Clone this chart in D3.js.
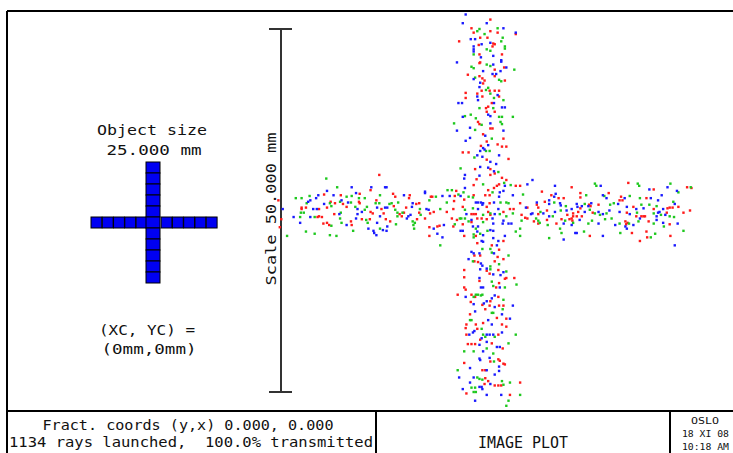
<!DOCTYPE html>
<html lang="en">
<head>
<meta charset="UTF-8">
<title>Image Plot</title>
<script src="https://d3js.org/d3.v7.min.js"></script>
<style>
  body { margin: 0; background: #fff; }
  svg text { font-family: "DejaVu Sans Mono", monospace; fill: #111; white-space: pre; }
</style>
</head>
<body>
<svg id="chart" width="733" height="453"></svg>
<script>
// ray intersections in the image plane, mm [x, y], one array per wavelength
const redRays = [
  [0.6,26.3],[-2.0,25.1],[-1.7,24.5],[0.6,24.7],[1.6,24.5],[4.1,24.3],[-3.7,23.3],[-0.8,23.8],[0.2,23.8],[1.0,23.0],
  [1.2,22.9],[0.9,22.6],[-1.0,22.8],[-0.9,21.5],[2.2,21.5],[-0.8,20.4],[-0.9,20.3],[1.2,19.4],[2.5,19.7],[1.2,18.5],
  [-2.5,18.7],[-0.9,18.5],[-0.5,18.2],[-0.2,17.9],[-0.4,17.5],[2.6,17.9],[-0.6,16.5],[0.5,16.5],[1.2,16.5],[1.8,16.5],
  [-2.8,16.2],[-1.2,16.1],[-0.5,15.7],[1.8,15.7],[-2.8,15.5],[0.8,14.8],[0.0,14.1],[0.3,14.3],[1.2,13.6],[0.1,13.6],
  [-1.1,12.2],[-0.9,11.9],[0.6,11.3],[0.9,11.3],[-0.4,10.5],[2.4,9.9],[0.1,9.5],[-0.7,8.9],[1.6,9.1],[2.2,8.8],
  [2.8,8.8],[-3.2,8.0],[-2.4,8.0],[0.1,7.0],[3.1,7.1],[-1.5,5.7],[0.6,5.7],[1.2,5.1],[0.6,4.9],[-1.3,4.3],
  [2.2,4.5],[2.8,4.2],[1.8,3.6],[-1.7,3.5],[1.5,3.4],[4.1,3.4],[4.7,3.4],[-4.1,2.7],[1.1,3.1],[0.3,2.8],
  [-4.3,2.0],[-1.7,2.1],[-0.1,2.1],[0.5,2.1],[-4.4,1.3],[-3.0,1.5],[0.1,0.5],[0.5,1.0],[4.7,1.0],[5.7,0.4],
  [-5.4,-0.2],[-4.5,0.2],[-3.2,0.5],[0.3,-0.2],[2.4,-0.2],[3.3,0.2],[3.8,0.2],[4.9,-0.6],[7.2,0.4],[-2.0,-0.5],
  [-1.7,-0.5],[-1.4,-0.5],[0.6,-0.6],[-4.7,-1.1],[-4.0,-1.3],[-1.2,-1.1],[-0.6,-1.1],[0.1,-1.2],[5.4,-1.0],[5.7,-1.1],
  [7.2,-1.8],[-3.2,-1.9],[-2.0,-1.6],[-4.5,-2.2],[-1.4,-3.5],
  [-3.0,-3.5],[-1.2,-4.5],[0.8,-4.8],[2.4,-4.2],[1.8,-5.4],[-1.6,-6.2],[-0.8,-6.2],[1.6,-6.4],[-1.6,-7.0],[-1.1,-7.1],
  [1.2,-7.0],[2.4,-6.7],[-3.0,-8.2],[0.1,-8.3],[0.5,-8.7],[1.7,-8.2],[2.6,-9.4],[2.8,-9.3],[3.9,-9.3],[-3.0,-9.2],
  [-0.9,-9.7],[1.8,-10.0],[-3.0,-10.6],[-2.8,-10.9],[1.4,-10.6],[-3.9,-11.6],[-2.0,-11.6],[-1.5,-11.9],[1.7,-11.9],[0.6,-12.5],
  [-2.1,-12.6],[-0.5,-13.0],[0.5,-13.1],[1.8,-13.1],[2.4,-13.1],[-0.1,-13.6],[-2.2,-14.3],[1.5,-14.8],[2.8,-14.9],[-1.4,-15.7],
  [-2.7,-15.7],[-0.4,-15.5],[2.2,-15.7],[2.8,-16.0],[-2.8,-16.2],[-2.7,-17.1],[-1.2,-16.3],[1.7,-17.1],[-0.8,-17.8],[-2.5,-18.4],
  [-2.0,-18.4],[-1.5,-18.4],[0.8,-18.3],[2.3,-19.0],[0.6,-20.8],[1.7,-20.5],[1.9,-20.7],[2.4,-21.1],[2.6,-21.2],[-3.0,-21.0],
  [-0.5,-22.0],[-0.1,-22.0],[-0.1,-23.1],[0.3,-23.5],[4.7,-23.7],[-0.2,-23.9],[1.2,-24.1],[1.7,-24.1],[2.1,-24.1],[-2.7,-25.2],
  [3.3,-25.4],
  [-14.7,4.9],[-22.3,2.2],[-20.0,2.1],[-17.4,2.3],[-17.5,1.2],[-15.9,2.8],[-15.1,1.4],[-12.8,2.3],[-12.5,1.9],[-10.5,2.1],
  [-10.6,1.7],[-7.6,1.9],[-7.4,1.9],[-25.4,0.4],[-25.4,0.2],[-24.8,0.4],[-23.0,0.2],[-21.9,0.4],[-21.4,1.2],[-20.8,1.0],
  [-19.7,0.9],[-19.2,0.5],[-17.4,1.0],[-15.9,-0.2],[-15.6,-0.4],[-14.4,0.2],[-12.7,0.6],[-11.0,0.4],[-9.6,0.9],[-9.2,1.0],
  [-7.7,-0.4],[-7.2,-0.2],[-28.2,-1.2],[-23.2,-0.9],[-23.0,-0.8],[-22.6,-0.9],[-22.4,-1.8],[-21.6,-2.0],[-21.9,-1.7],[-20.9,-0.5],
  [-18.6,-1.5],[-18.5,-2.0],[-17.1,-1.2],[-16.0,-1.2],[-14.1,-0.4],[-13.8,-1.2],[-13.2,-1.5],[-11.9,-0.5],[-11.6,-0.8],[-11.3,-0.3],
  [-9.5,-1.2],[-9.2,-0.3],[-8.4,-1.1],[-7.8,-2.3],[-6.7,-2.2],[-6.4,-2.1],[-7.8,-3.5],[-28.6,1.4],[-28.4,-2.3],
  [11.8,3.2],[19.6,3.8],[23.1,2.9],[27.7,3.2],[7.7,2.6],[9.0,2.1],[10.0,1.7],[10.7,1.7],[13.0,2.4],[13.0,1.8],
  [16.9,2.4],[18.6,1.9],[18.4,1.4],[18.8,1.4],[22.1,1.7],[7.0,0.8],[8.1,1.2],[13.0,0.3],[14.2,0.8],[14.4,0.6],
  [15.5,0.8],[20.3,0.5],[23.1,0.2],[25.0,0.3],[25.3,0.4],[25.7,0.4],[26.5,0.5],[27.2,-0.3],[28.1,0.0],[7.2,-0.5],
  [8.4,0.0],[11.2,-0.6],[12.0,-0.4],[12.0,-0.8],[12.5,-0.8],[13.2,-0.8],[12.7,-0.2],[14.7,-0.3],[19.4,-0.3],[20.7,-0.8],
  [21.4,-0.8],[21.7,-0.8],[21.9,-0.8],[24.9,-0.3],[6.6,-1.5],[8.4,-1.3],[9.7,-1.8],[10.4,-1.2],[11.5,-1.2],[11.8,-1.1],
  [11.9,-1.4],[19.2,-1.5],[19.3,-1.9],[19.5,-1.7],[22.4,-1.5],[25.3,-1.9],[20.1,-3.1],[22.1,-2.9],[14.3,-3.5],[21.2,-4.2],
  [22.2,-3.7],[25.4,-3.5],[28.3,3.1]
];
const greenRays = [
  [-1.2,24.7],[-0.9,25.0],[-0.2,24.3],[1.6,25.1],[2.3,23.8],[2.1,23.3],[0.1,22.2],[0.6,22.0],[2.6,22.6],[2.6,22.3],
  [-1.7,21.5],[0.1,20.1],[0.6,19.9],[-2.0,19.8],[-1.7,19.6],[3.9,19.4],[-1.5,18.3],[1.8,18.0],[2.1,17.8],[0.3,16.9],
  [0.0,16.6],[0.6,16.1],[1.1,15.5],[2.4,15.2],[-0.9,14.1],[1.0,14.1],[-2.1,13.2],[-2.9,13.0],[-1.4,12.7],[1.8,12.9],
  [2.2,12.9],[3.7,12.9],
  [-4.4,12.0],[-1.5,11.1],[-0.6,11.8],[2.2,11.9],[2.0,12.2],[0.8,9.9],[0.0,8.2],[0.5,8.2],[-1.6,7.3],[-3.5,5.8],
  [1.7,5.3],[2.5,3.8],[-0.4,3.6],[3.4,3.5],[-5.3,2.8],[-4.7,2.8],[-3.8,2.2],[-3.1,2.5],[0.9,2.5],[-2.4,1.9],
  [-1.8,1.8],[5.1,2.2],[-5.4,1.1],[2.0,1.1],[2.8,1.1],[3.1,1.0],[-6.3,0.2],[-2.9,0.1],[-1.8,0.3],[0.6,-0.4],
  [3.7,-0.4],[-0.4,-0.6],[1.9,-0.5],[-3.6,-1.1],[-3.4,-1.1],[-2.9,-1.1],[-2.4,-1.5],[2.8,-0.8],[4.9,-1.4],[6.9,-1.1],
  [-4.3,-1.9],[-0.4,-1.6],[-1.4,-2.5],[0.2,-2.8],[4.1,-2.9],[4.7,-2.5],[-1.7,-3.3],[-0.8,-3.2],
  [-1.7,-3.7],[4.7,-3.5],[-6.3,-4.8],[-0.5,-5.3],[0.6,-5.3],[0.8,-5.8],[3.1,-6.2],[-1.8,-7.0],[0.6,-7.7],[0.6,-8.1],
  [1.8,-7.4],[2.8,-8.4],[0.8,-9.8],[1.0,-10.4],[4.2,-10.2],[2.6,-10.6],[-1.7,-11.9],[-1.4,-11.6],[-1.1,-11.6],[-0.7,-11.7],
  [-0.5,-11.6],[2.4,-12.3],[0.8,-14.1],[1.0,-14.1],[2.3,-13.6],[-2.2,-15.1],[-2.0,-15.1],[-0.6,-16.3],[-0.4,-17.1],[1.2,-17.4],
  [4.1,-17.1],[-0.1,-17.4],[3.1,-18.3],[-3.0,-19.4],[-1.7,-19.4],[0.1,-19.0],[1.0,-19.7],[1.1,-20.8],[-3.9,-22.0],[-1.2,-23.0],
  [-0.9,-23.2],[-0.5,-23.3],[2.2,-23.5],[3.3,-23.7],[-1.5,-24.4],[-2.0,-24.4],[-1.7,-25.0],[2.4,-24.0],[-1.4,-25.0],[4.7,-25.4],
  [3.1,-26.2],[2.8,-26.9],
  [-22.0,4.4],[-26.2,1.7],[-25.4,1.7],[-24.3,2.0],[-20.5,3.2],[-19.2,1.9],[-18.5,2.0],[-17.5,1.7],[-16.7,1.7],[-14.6,2.1],
  [-7.8,1.4],[-6.9,1.9],[-24.7,1.0],[-25.1,-0.3],[-25.5,-0.3],[-25.6,-0.9],[-21.5,1.0],[-21.3,0.6],[-20.1,1.2],[-18.6,1.1],
  [-18.0,0.5],[-16.7,0.1],[-16.4,0.5],[-15.2,1.0],[-14.7,1.0],[-13.3,0.9],[-13.0,1.0],[-12.1,1.1],[-12.5,0.1],[-11.5,-0.3],
  [-12.2,-0.3],[-9.1,0.2],[-23.6,-0.9],[-21.3,-2.1],[-20.0,-0.3],[-20.1,-1.1],[-19.9,-1.7],[-16.5,-1.3],[-16.3,-1.7],[-14.6,-2.5],
  [-12.4,-1.9],[-12.2,-0.8],[-10.1,-1.5],[-9.8,-1.7],[-10.0,-2.0],[-9.9,-2.5],[-9.0,-0.6],[-24.8,-2.9],[-23.6,-3.2],[-21.5,-3.4],
  [-20.6,-3.5],[-18.3,-2.8],[-27.4,-3.5],
  [15.0,3.7],[15.2,3.4],[20.9,3.7],[21.1,3.4],[25.4,3.7],[26.5,2.5],[13.8,2.1],[16.3,2.0],[19.8,2.0],[21.2,1.7],
  [25.8,1.2],[9.4,1.1],[11.0,0.6],[13.6,0.9],[17.1,0.8],[17.6,1.0],[21.4,0.8],[22.5,0.8],[23.5,0.6],[7.5,-0.2],
  [9.2,-0.8],[10.3,0.0],[14.3,0.1],[15.0,-0.4],[15.7,-0.6],[16.6,-0.4],[17.3,-1.1],[20.8,-0.3],[23.1,-0.4],[24.1,-0.6],
  [25.3,-0.8],[25.9,-0.9],[7.2,-1.4],[7.4,-1.7],[8.5,-2.0],[10.9,-1.4],[12.0,-1.7],[14.1,-1.8],[14.6,-1.4],[16.4,-1.2],
  [18.4,-1.8],[19.7,-1.8],[21.0,-1.5],[23.1,-1.8],[24.5,-2.2],[10.2,-2.5],[10.4,-3.1],[13.5,-2.9],[18.5,-3.1],[23.3,-3.2],
  [27.2,-2.8],[8.7,-3.8],[22.7,-3.7],[28.2,3.2]
];
const blueRays = [
  [-2.8,27.0],[-3.2,25.8],[0.1,25.8],[2.4,25.1],[4.1,24.5],[-2.1,23.6],[-1.5,23.6],[0.6,23.1],[-1.7,22.6],[-1.7,22.2],
  [-1.7,21.9],[-0.6,22.9],[1.0,21.3],[-4.0,20.4],[2.1,20.7],[2.1,20.5],[-0.7,21.1],[1.0,20.1],[-0.4,19.2],[2.0,19.2],
  [2.8,19.7],[0.9,18.8],[1.4,18.8],[-1.7,18.1],[-0.8,17.6],[-0.9,17.0],[1.6,15.9],[-1.2,15.7],[-3.8,14.8],[-3.3,14.8],
  [-1.1,15.2],[1.1,14.8],[2.2,14.2],[2.6,14.2],[-3.2,12.9],[0.3,13.2],[0.6,13.0],
  [-4.0,11.0],[-2.2,11.4],[0.6,12.0],[2.4,11.0],[-0.1,10.3],[-2.8,9.6],[-2.2,10.0],[0.3,9.0],[-0.4,8.6],[-0.2,8.4],
  [-0.8,8.2],[-1.2,7.6],[-0.5,7.4],[0.6,6.7],[1.8,7.6],[1.4,6.4],[-0.8,6.0],[0.3,5.9],[1.1,5.4],[-2.9,4.9],
  [-3.0,4.4],[-0.9,4.8],[-2.9,3.1],[2.6,3.4],[5.7,3.6],[1.9,2.5],[2.4,2.7],[-6.0,2.0],[-5.0,2.0],[-3.5,2.0],
  [1.8,1.9],[3.7,2.1],[-1.4,1.1],[-1.1,1.1],[-0.7,1.1],[-0.4,1.0],[-0.5,0.8],[1.1,1.1],[5.5,0.4],[7.0,1.1],
  [-1.1,0.2],[1.2,-0.5],[1.7,0.2],[6.4,-0.4],[6.2,-0.5],[-2.7,-0.5],[-2.0,-1.3],[0.9,-1.1],[2.4,-1.4],[3.5,-1.8],
  [1.0,-1.8],[2.3,-1.8],[3.1,-1.8],[-5.8,-2.0],[-1.8,-2.2],[-1.1,-2.2],[0.6,-2.7],[1.0,-2.8],[-3.5,-2.8],[-3.2,-2.8],
  [-1.2,-2.9],[-0.4,-3.4],[-6.0,-3.7],
  [-0.6,-4.2],[-0.4,-4.3],[1.0,-3.8],[2.6,-3.5],[1.7,-4.2],[1.5,-4.8],[-2.0,-5.7],[-1.7,-5.9],[-0.9,-5.9],[1.1,-5.9],
  [-2.4,-6.7],[-0.7,-7.3],[-0.5,-7.6],[0.1,-8.0],[-0.8,-8.1],[1.0,-8.8],[2.0,-8.9],[2.4,-8.5],[-0.9,-9.3],[-0.7,-10.6],
  [-0.4,-10.6],[1.9,-10.6],[-2.8,-11.9],[0.1,-12.5],[0.8,-12.1],[1.2,-11.7],[-1.7,-12.9],[-0.3,-12.8],[1.2,-13.3],[3.7,-13.1],
  [-1.5,-13.9],[2.2,-14.3],[3.3,-14.9],[0.3,-15.1],[0.8,-15.7],[-2.3,-17.1],[-1.8,-16.8],[-1.6,-16.6],[0.1,-17.1],[0.5,-17.1],
  [1.0,-17.1],[2.2,-16.8],[-0.6,-17.6],[0.1,-18.1],[-0.9,-18.5],[1.5,-18.8],[1.9,-18.8],[-0.4,-19.4],[-0.9,-20.4],[-0.8,-20.6],
  [0.5,-20.3],[1.8,-21.5],[1.8,-22.1],[0.1,-22.0],[-2.2,-21.7],[1.2,-22.6],[-1.7,-23.0],[-3.7,-23.0],[-2.2,-23.7],[-0.9,-24.3],
  [-0.5,-24.6],[-0.6,-24.3],[0.6,-23.9],[-3.2,-24.6],[0.1,-25.4],[2.1,-25.4],[-1.5,-26.2],
  [-24.5,1.2],[-24.2,1.4],[-23.4,1.7],[-23.1,2.1],[-21.9,2.7],[-21.0,2.1],[-18.5,3.2],[-17.9,2.4],[-15.8,3.2],[-13.9,3.2],
  [-13.7,3.2],[-11.3,2.1],[-8.4,2.6],[-8.4,2.4],[-28.0,0.2],[-23.8,0.2],[-23.3,0.2],[-22.3,0.9],[-19.9,1.4],[-19.0,1.1],
  [-17.7,0.2],[-17.1,-0.2],[-15.0,0.4],[-13.9,0.4],[-13.6,0.4],[-10.2,0.5],[-10.1,1.0],[-8.2,0.2],[-7.9,0.1],[-26.5,-0.9],
  [-25.6,-1.7],[-24.2,-0.9],[-20.2,-0.5],[-19.2,-2.0],[-17.9,-1.1],[-17.7,-0.5],[-16.2,-2.5],[-15.5,-2.8],[-15.4,-3.1],[-15.0,-1.7],
  [-14.6,-0.8],[-13.6,-2.2],[-13.7,-2.8],[-10.7,-0.8],[-10.4,-0.6],[-10.9,-1.1],[-7.2,-2.5],[-15.1,-3.4],[-14.2,-2.7],[-6.7,-3.2],
  [6.4,4.2],[9.5,3.4],[15.8,3.4],[22.5,2.9],[25.0,3.2],[26.3,2.7],[9.6,2.3],[9.4,1.9],[16.1,2.1],[16.6,1.7],
  [19.1,1.7],[22.7,1.7],[24.2,2.1],[23.7,1.4],[26.0,0.9],[8.7,1.4],[8.7,0.9],[10.2,1.0],[10.3,0.7],[11.8,0.2],
  [12.5,0.9],[12.6,0.5],[13.2,0.6],[14.1,0.6],[14.5,1.0],[18.2,0.9],[19.4,0.5],[21.7,0.3],[23.9,-0.2],[24.4,0.2],
  [7.9,-0.4],[8.7,-0.8],[9.5,-0.2],[11.1,0.0],[13.6,-0.2],[15.5,-0.2],[16.1,-0.5],[17.0,0.0],[18.4,-0.2],[19.8,-0.5],
  [20.7,0.2],[21.2,-1.1],[23.5,-0.8],[23.7,-0.3],[24.7,-0.6],[10.7,-1.8],[11.8,-2.0],[12.9,-1.3],[15.5,-1.8],[17.8,-2.0],
  [19.2,-2.2],[20.3,-2.0],[23.5,-1.3],[24.4,-1.7],[26.4,-1.8],[12.3,-3.1],[12.5,-3.1],[19.4,-2.5],[10.7,-4.0],[16.1,-3.5],
  [26.0,-4.8]
];

const objectSizeMm = 25.0;
const scaleMm = 50.0;
const objectCells = 11;
const objectCenter = [0, 0];
const fractCoords = [0.0, 0.0];
const raysLaunched = 1134;
const transmittedPct = 100.0;
const plotTitle = "IMAGE PLOT";
const stampLines = ["OSLO", "18 XI 08", "10:18 AM"];

const svg = d3.select("#chart");

// image plane scales, 7.26 px per mm, centred on the cross
const x = d3.scaleLinear().domain([-scaleMm / 2, scaleMm / 2]).range([304.5, 667.5]);
const y = d3.scaleLinear().domain([-scaleMm / 2, scaleMm / 2]).range([392, 29]);

// frame
const frame = [
  [[7, 11], [733, 11]],
  [[7, 11], [7, 453]],
  [[7, 411], [733, 411]],
  [[376, 411], [376, 453]],
  [[670, 411], [670, 453]]
];
svg.append("g")
  .selectAll("line")
  .data(frame)
  .join("line")
  .attr("x1", d => d[0][0]).attr("y1", d => d[0][1])
  .attr("x2", d => d[1][0]).attr("y2", d => d[1][1])
  .attr("stroke", "#000")
  .attr("stroke-width", 2);

// scale bar
const barX = 281;
const bar = svg.append("g").attr("stroke", "#333").attr("stroke-width", 2);
bar.append("line")
  .attr("x1", barX).attr("x2", barX)
  .attr("y1", y(scaleMm / 2)).attr("y2", y(-scaleMm / 2));
[scaleMm / 2, -scaleMm / 2].forEach(v => {
  bar.append("line")
    .attr("x1", barX - 12).attr("x2", barX + 11)
    .attr("y1", y(v)).attr("y2", y(v));
});
svg.append("text")
  .attr("transform", "translate(276,209) rotate(-90)")
  .attr("text-anchor", "middle")
  .attr("font-size", 14)
  .attr("textLength", 153)
  .attr("lengthAdjust", "spacingAndGlyphs")
  .text("Scale " + scaleMm.toFixed(3) + " mm");

// object panel
function label(tx, ty, str, size, len, anchor) {
  svg.append("text")
    .attr("x", tx).attr("y", ty)
    .attr("text-anchor", anchor || "middle")
    .attr("font-size", size)
    .attr("textLength", len)
    .attr("lengthAdjust", "spacingAndGlyphs")
    .text(str);
}
label(152, 135, "Object size", 14, 110);
label(154, 155, objectSizeMm.toFixed(3) + " mm", 14, 95);
label(147, 335, "(XC, YC) =", 14, 96);
label(149, 354, "(" + objectCenter[0] + "mm," + objectCenter[1] + "mm)", 14, 95);

const ox = d3.scaleLinear().domain([-objectSizeMm / 2, objectSizeMm / 2]).range([91, 215]);
const oy = d3.scaleLinear().domain([-objectSizeMm / 2, objectSizeMm / 2]).range([283, 162]);
const cell = objectSizeMm / objectCells;
const idx = d3.range(objectCells);
const mid = Math.floor(objectCells / 2);
const obj = svg.append("g").attr("fill", "#0000f2").attr("stroke", "#000").attr("stroke-width", 1);
// horizontal arm (without centre cell)
obj.selectAll(".h")
  .data(idx.filter(i => i !== mid))
  .join("rect")
  .attr("class", "h")
  .attr("x", i => i < mid ? ox(-objectSizeMm / 2 + i * cell) : ox(-objectSizeMm / 2 + i * cell) + 2.5)
  .attr("y", oy(cell / 2))
  .attr("width", ox(cell) - ox(0) - 0.4)
  .attr("height", oy(-cell / 2) - oy(cell / 2));
// vertical arm
obj.selectAll(".v")
  .data(idx)
  .join("rect")
  .attr("class", "v")
  .attr("x", 146)
  .attr("y", i => oy(objectSizeMm / 2 - i * cell))
  .attr("width", 14)
  .attr("height", oy(-cell) - oy(0));

// spot diagram
const dot = 2.4;
const series = [
  { color: "#ff1a1a", rays: redRays },
  { color: "#1ec81e", rays: greenRays },
  { color: "#1a1aff", rays: blueRays }
];
series.forEach(s => {
  svg.append("g")
    .attr("fill", s.color)
    .selectAll("rect")
    .data(s.rays)
    .join("rect")
    .attr("x", d => x(d[0]) - dot / 2)
    .attr("y", d => y(d[1]) - dot / 2)
    .attr("width", dot)
    .attr("height", dot);
});

// title block
label(188, 430, "Fract. coords (y,x) " + fractCoords[0].toFixed(3) + ", " + fractCoords[1].toFixed(3), 13.5, 291);
label(191, 447, raysLaunched + " rays launched,  " + transmittedPct.toFixed(1) + "% transmitted", 13.5, 364);
label(523, 448, plotTitle, 15, 90);
label(705, 424, stampLines[0], 9.5, 28);
label(682, 437, stampLines[1], 9.5, 47, "start");
label(682, 450, stampLines[2], 9.5, 47, "start");
</script>
</body>
</html>
